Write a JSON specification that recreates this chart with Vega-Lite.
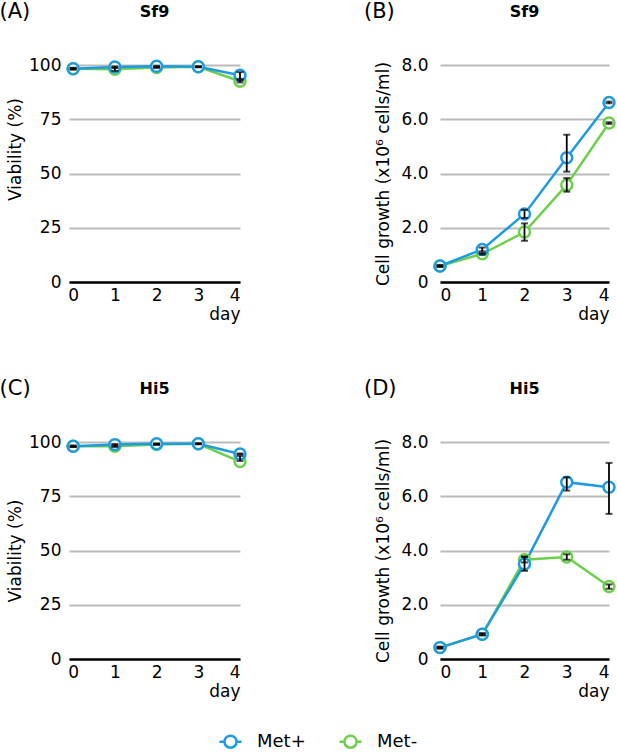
{
  "$schema": "https://vega.github.io/schema/vega-lite/v6.json",
  "background": "white",
  "padding": {"left": -1, "top": 0, "right": 0, "bottom": 0},
  "data": {"values": [
    {"panel": "A", "day": 0, "group": "Met-", "value": 98.3, "lo": 97.9, "hi": 98.7},
    {"panel": "A", "day": 1, "group": "Met-", "value": 98.0, "lo": 97.3, "hi": 98.7},
    {"panel": "A", "day": 2, "group": "Met-", "value": 98.8, "lo": 98.6, "hi": 99.2},
    {"panel": "A", "day": 3, "group": "Met-", "value": 99.2, "lo": 99.0, "hi": 99.4},
    {"panel": "A", "day": 4, "group": "Met-", "value": 92.5, "lo": 92.0, "hi": 93.0},
    {"panel": "A", "day": 0, "group": "Met+", "value": 98.3, "lo": 98.0, "hi": 98.6},
    {"panel": "A", "day": 1, "group": "Met+", "value": 99.1, "lo": 98.8, "hi": 99.4},
    {"panel": "A", "day": 2, "group": "Met+", "value": 99.4, "lo": 99.1, "hi": 99.7},
    {"panel": "A", "day": 3, "group": "Met+", "value": 99.2, "lo": 99.0, "hi": 99.4},
    {"panel": "A", "day": 4, "group": "Met+", "value": 95.3, "lo": 93.6, "hi": 96.7},
    {"panel": "B", "day": 0, "group": "Met-", "value": 0.59, "lo": 0.56, "hi": 0.62},
    {"panel": "B", "day": 1, "group": "Met-", "value": 1.04, "lo": 1.01, "hi": 1.07},
    {"panel": "B", "day": 2, "group": "Met-", "value": 1.84, "lo": 1.52, "hi": 2.16},
    {"panel": "B", "day": 3, "group": "Met-", "value": 3.58, "lo": 3.33, "hi": 3.83},
    {"panel": "B", "day": 4, "group": "Met-", "value": 5.86, "lo": 5.83, "hi": 5.89},
    {"panel": "B", "day": 0, "group": "Met+", "value": 0.59, "lo": 0.56, "hi": 0.62},
    {"panel": "B", "day": 1, "group": "Met+", "value": 1.2, "lo": 1.13, "hi": 1.27},
    {"panel": "B", "day": 2, "group": "Met+", "value": 2.51, "lo": 2.36, "hi": 2.66},
    {"panel": "B", "day": 3, "group": "Met+", "value": 4.58, "lo": 4.07, "hi": 5.43},
    {"panel": "B", "day": 4, "group": "Met+", "value": 6.62, "lo": 6.59, "hi": 6.65},
    {"panel": "C", "day": 0, "group": "Met-", "value": 98.0, "lo": 97.7, "hi": 98.3},
    {"panel": "C", "day": 1, "group": "Met-", "value": 98.0, "lo": 97.7, "hi": 98.3},
    {"panel": "C", "day": 2, "group": "Met-", "value": 98.8, "lo": 98.6, "hi": 99.0},
    {"panel": "C", "day": 3, "group": "Met-", "value": 99.2, "lo": 99.0, "hi": 99.4},
    {"panel": "C", "day": 4, "group": "Met-", "value": 91.0, "lo": 91.3, "hi": 93.6},
    {"panel": "C", "day": 0, "group": "Met+", "value": 98.0, "lo": 97.7, "hi": 98.3},
    {"panel": "C", "day": 1, "group": "Met+", "value": 98.8, "lo": 98.5, "hi": 99.1},
    {"panel": "C", "day": 2, "group": "Met+", "value": 99.2, "lo": 99.0, "hi": 99.4},
    {"panel": "C", "day": 3, "group": "Met+", "value": 99.2, "lo": 99.0, "hi": 99.4},
    {"panel": "C", "day": 4, "group": "Met+", "value": 94.5, "lo": 94.3, "hi": 94.7},
    {"panel": "D", "day": 0, "group": "Met-", "value": 0.42, "lo": 0.39, "hi": 0.45},
    {"panel": "D", "day": 1, "group": "Met-", "value": 0.91, "lo": 0.88, "hi": 0.94},
    {"panel": "D", "day": 2, "group": "Met-", "value": 3.66, "lo": 3.56, "hi": 3.76},
    {"panel": "D", "day": 3, "group": "Met-", "value": 3.76, "lo": 3.66, "hi": 3.86},
    {"panel": "D", "day": 4, "group": "Met-", "value": 2.67, "lo": 2.59, "hi": 2.75},
    {"panel": "D", "day": 0, "group": "Met+", "value": 0.42, "lo": 0.39, "hi": 0.45},
    {"panel": "D", "day": 1, "group": "Met+", "value": 0.91, "lo": 0.87, "hi": 0.95},
    {"panel": "D", "day": 2, "group": "Met+", "value": 3.5, "lo": 3.25, "hi": 3.78},
    {"panel": "D", "day": 3, "group": "Met+", "value": 6.52, "lo": 6.21, "hi": 6.7},
    {"panel": "D", "day": 4, "group": "Met+", "value": 6.33, "lo": 5.35, "hi": 7.23}
  ]},
  "config": {
    "font": "DejaVu Sans",
    "view": {"stroke": null},
    "title": {"color": "black", "font": "DejaVu Sans"},
    "axisY": {"grid": true, "gridColor": "#bbbbbb", "gridWidth": 2, "domain": false, "ticks": false,
      "labelFont": "DejaVu Sans", "labelFontSize": 17, "labelColor": "black", "labelPadding": 8,
      "titleFont": "DejaVu Sans", "titleFontSize": 17, "titleFontWeight": "normal", "titleColor": "black", "titlePadding": 4},
    "axisX": {"grid": false, "domain": true, "domainColor": "black", "domainWidth": 2.5, "ticks": false,
      "labelFont": "DejaVu Sans", "labelFontSize": 17, "labelColor": "black", "labelPadding": 5, "labelAngle": 0,
      "titleFont": "DejaVu Sans", "titleFontSize": 17, "titleFontWeight": "normal", "titleColor": "black", "titlePadding": 3,
      "titleAnchor": "end", "titleAlign": "right"},
    "legend": {"orient": "bottom", "offset": 30, "direction": "horizontal", "labelFont": "DejaVu Sans", "labelFontSize": 18,
      "labelColor": "black", "symbolType": "M-1,0L-0.55,0M-0.55,0A0.55,0.55,0,1,1,0.55,0A0.55,0.55,0,1,1,-0.55,0M0.55,0L1,0",
      "symbolSize": 484, "symbolStrokeWidth": 2.5, "symbolFillColor": "white", "labelOffset": 14, "columnPadding": 28,
      "titleOrient": "left", "titlePadding": 16, "titleFontSize": 18,
      "layout": {"bottom": {"anchor": "middle"}}}
  },
  "resolve": {"scale": {"stroke": "shared"}, "legend": {"stroke": "shared"}},
  "spacing": 56,
  "vconcat": [
    {"hconcat": [
      {"title": {"text": "(A)", "anchor": "start", "frame": "bounds", "fontSize": 21, "fontWeight": "normal", "offset": -18, "dx": -7},
       "vconcat": [{
        "title": {"text": "Sf9", "anchor": "middle", "frame": "group", "fontSize": 16, "fontWeight": "bold", "offset": 36},
        "width": 171, "height": 217,
        "transform": [{"filter": "datum.panel == 'A'"}],
        "encoding": {
          "x": {"field": "day", "type": "quantitative", "scale": {"domain": [-0.1, 4], "nice": false}, "axis": {"values": [0, 1, 2, 3, 4], "title": "day"}}
        },
        "layer": [
          {"mark": {"type": "line", "strokeWidth": 2.5},
           "encoding": {"y": {"field": "value", "type": "quantitative", "title": "Viability (%)", "scale": {"domain": [0, 100], "nice": false}, "axis": {"values": [0, 25, 50, 75, 100], "title": "Viability (%)", "titleY": 84}},
             "stroke": {"field": "group", "type": "nominal", "scale": {"domain": ["Met+", "Met-"], "range": ["#1E9BE0", "#6DD04A"]}, "legend": {"title": " "}}}},
          {"mark": {"type": "point", "shape": "circle", "filled": false, "fill": "white", "fillOpacity": 1, "opacity": 1, "size": 120, "strokeWidth": 2.5},
           "encoding": {"y": {"field": "value", "type": "quantitative", "title": "Viability (%)"},
             "stroke": {"field": "group", "type": "nominal", "scale": {"domain": ["Met+", "Met-"], "range": ["#1E9BE0", "#6DD04A"]}, "legend": {"title": " "}}}},
          {"mark": {"type": "errorbar", "color": "black", "thickness": 1.8, "ticks": {"size": 7, "thickness": 2, "color": "black"}},
           "encoding": {"y": {"field": "lo", "type": "quantitative", "title": "Viability (%)"}, "y2": {"field": "hi"}}}
        ]
      }]},
      {"title": {"text": "(B)", "anchor": "start", "frame": "bounds", "fontSize": 21, "fontWeight": "normal", "offset": -18, "dx": -11},
       "vconcat": [{
        "title": {"text": "Sf9", "anchor": "middle", "frame": "group", "fontSize": 16, "fontWeight": "bold", "offset": 36},
        "width": 169, "height": 217,
        "transform": [{"filter": "datum.panel == 'B'"}],
        "encoding": {
          "x": {"field": "day", "type": "quantitative", "scale": {"domain": [0, 4], "nice": false}, "axis": {"values": [0, 1, 2, 3, 4], "title": "day"}}
        },
        "layer": [
          {"mark": {"type": "line", "strokeWidth": 2.5},
           "encoding": {"y": {"field": "value", "type": "quantitative", "title": "Cell growth (x10⁶ cells/ml)", "scale": {"domain": [0, 8], "nice": false}, "axis": {"values": [0, 2, 4, 6, 8], "labelExpr": "datum.value == 0 ? '0' : format(datum.value, '.1f')", "title": "Cell growth (x10⁶ cells/ml)", "labelPadding": 12, "titlePadding": 8}},
             "stroke": {"field": "group", "type": "nominal", "scale": {"domain": ["Met+", "Met-"], "range": ["#1E9BE0", "#6DD04A"]}, "legend": {"title": " "}}}},
          {"mark": {"type": "point", "shape": "circle", "filled": false, "fill": "white", "fillOpacity": 1, "opacity": 1, "size": 120, "strokeWidth": 2.5},
           "encoding": {"y": {"field": "value", "type": "quantitative", "title": "Cell growth (x10⁶ cells/ml)"},
             "stroke": {"field": "group", "type": "nominal", "scale": {"domain": ["Met+", "Met-"], "range": ["#1E9BE0", "#6DD04A"]}, "legend": {"title": " "}}}},
          {"mark": {"type": "errorbar", "color": "black", "thickness": 1.8, "ticks": {"size": 7, "thickness": 2, "color": "black"}},
           "encoding": {"y": {"field": "lo", "type": "quantitative", "title": "Cell growth (x10⁶ cells/ml)"}, "y2": {"field": "hi"}}}
        ]
      }]}
    ], "spacing": 112, "resolve": {"scale": {"stroke": "shared"}, "legend": {"stroke": "shared"}}},
    {"hconcat": [
      {"title": {"text": "(C)", "anchor": "start", "frame": "bounds", "fontSize": 21, "fontWeight": "normal", "offset": -18, "dx": -7},
       "vconcat": [{
        "title": {"text": "Hi5", "anchor": "middle", "frame": "group", "fontSize": 16, "fontWeight": "bold", "offset": 36},
        "width": 171, "height": 217,
        "transform": [{"filter": "datum.panel == 'C'"}],
        "encoding": {
          "x": {"field": "day", "type": "quantitative", "scale": {"domain": [-0.1, 4], "nice": false}, "axis": {"values": [0, 1, 2, 3, 4], "title": "day"}}
        },
        "layer": [
          {"mark": {"type": "line", "strokeWidth": 2.5},
           "encoding": {"y": {"field": "value", "type": "quantitative", "title": "Viability (%)", "scale": {"domain": [0, 100], "nice": false}, "axis": {"values": [0, 25, 50, 75, 100], "title": "Viability (%)"}},
             "stroke": {"field": "group", "type": "nominal", "scale": {"domain": ["Met+", "Met-"], "range": ["#1E9BE0", "#6DD04A"]}, "legend": {"title": " "}}}},
          {"mark": {"type": "point", "shape": "circle", "filled": false, "fill": "white", "fillOpacity": 1, "opacity": 1, "size": 120, "strokeWidth": 2.5},
           "encoding": {"y": {"field": "value", "type": "quantitative", "title": "Viability (%)"},
             "stroke": {"field": "group", "type": "nominal", "scale": {"domain": ["Met+", "Met-"], "range": ["#1E9BE0", "#6DD04A"]}, "legend": {"title": " "}}}},
          {"mark": {"type": "errorbar", "color": "black", "thickness": 1.8, "ticks": {"size": 7, "thickness": 2, "color": "black"}},
           "encoding": {"y": {"field": "lo", "type": "quantitative", "title": "Viability (%)"}, "y2": {"field": "hi"}}}
        ]
      }]},
      {"title": {"text": "(D)", "anchor": "start", "frame": "bounds", "fontSize": 21, "fontWeight": "normal", "offset": -18, "dx": -11},
       "vconcat": [{
        "title": {"text": "Hi5", "anchor": "middle", "frame": "group", "fontSize": 16, "fontWeight": "bold", "offset": 36},
        "width": 169, "height": 217,
        "transform": [{"filter": "datum.panel == 'D'"}],
        "encoding": {
          "x": {"field": "day", "type": "quantitative", "scale": {"domain": [0, 4], "nice": false}, "axis": {"values": [0, 1, 2, 3, 4], "title": "day"}}
        },
        "layer": [
          {"mark": {"type": "line", "strokeWidth": 2.5},
           "encoding": {"y": {"field": "value", "type": "quantitative", "title": "Cell growth (x10⁶ cells/ml)", "scale": {"domain": [0, 8], "nice": false}, "axis": {"values": [0, 2, 4, 6, 8], "labelExpr": "datum.value == 0 ? '0' : format(datum.value, '.1f')", "title": "Cell growth (x10⁶ cells/ml)", "labelPadding": 12, "titlePadding": 8}},
             "stroke": {"field": "group", "type": "nominal", "scale": {"domain": ["Met+", "Met-"], "range": ["#1E9BE0", "#6DD04A"]}, "legend": {"title": " "}}}},
          {"mark": {"type": "point", "shape": "circle", "filled": false, "fill": "white", "fillOpacity": 1, "opacity": 1, "size": 120, "strokeWidth": 2.5},
           "encoding": {"y": {"field": "value", "type": "quantitative", "title": "Cell growth (x10⁶ cells/ml)"},
             "stroke": {"field": "group", "type": "nominal", "scale": {"domain": ["Met+", "Met-"], "range": ["#1E9BE0", "#6DD04A"]}, "legend": {"title": " "}}}},
          {"mark": {"type": "errorbar", "color": "black", "thickness": 1.8, "ticks": {"size": 7, "thickness": 2, "color": "black"}},
           "encoding": {"y": {"field": "lo", "type": "quantitative", "title": "Cell growth (x10⁶ cells/ml)"}, "y2": {"field": "hi"}}}
        ]
      }]}
    ], "spacing": 112, "resolve": {"scale": {"stroke": "shared"}, "legend": {"stroke": "shared"}}}
  ]
}
